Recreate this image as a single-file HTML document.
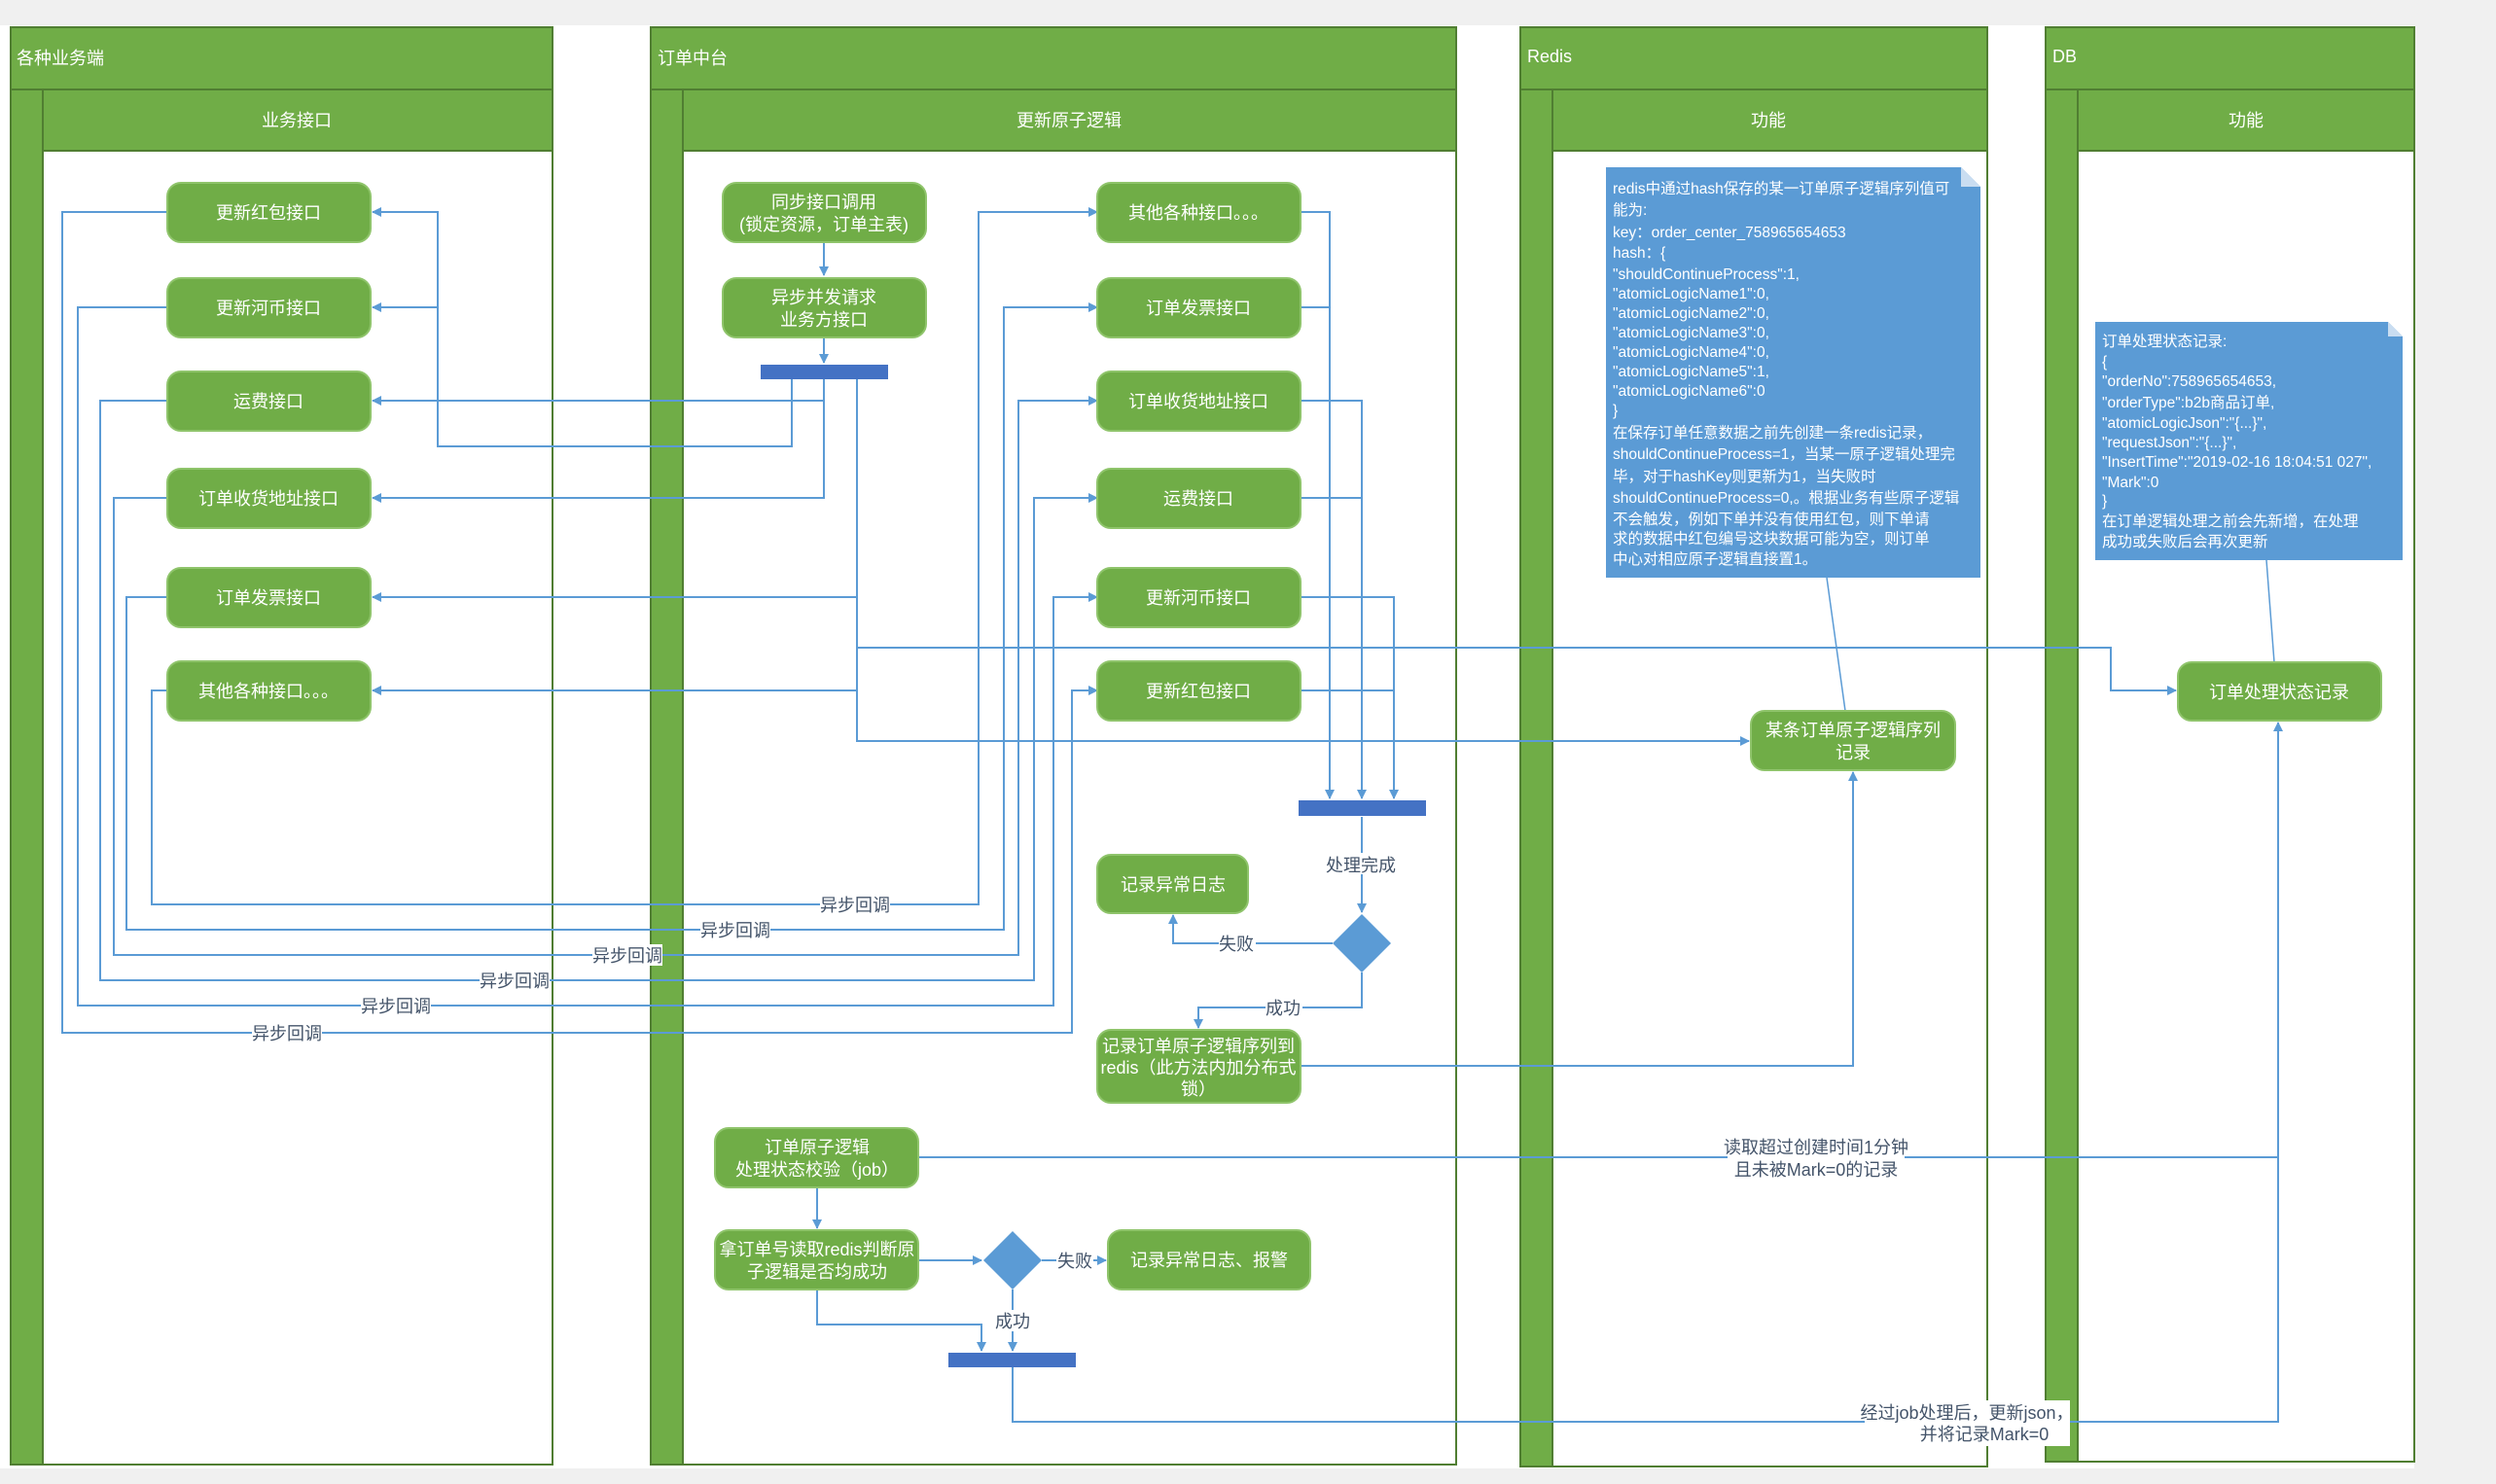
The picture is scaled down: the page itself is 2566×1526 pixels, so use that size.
<!DOCTYPE html>
<html><head><meta charset="utf-8"><style>
html,body{margin:0;padding:0;background:#f0f0f0;}
svg{display:block;font-family:"Liberation Sans","Noto Sans CJK SC",sans-serif;}
.n{fill:#70ad47;stroke:#8fc46b;stroke-width:2}
.nt{fill:#fff;font-size:18px;text-anchor:middle}
.l{fill:none;stroke:#5b9bd5;stroke-width:2}
.lb{fill:#44546a;font-size:18px;text-anchor:middle}
.hd{fill:#70ad47;stroke:#507e32;stroke-width:2}
.ht{fill:#fff;font-size:18px}
.nb{fill:#fff;font-size:15.5px}
</style></head><body>
<svg width="2566" height="1526" viewBox="0 0 2566 1526" xmlns="http://www.w3.org/2000/svg">
<defs><marker id="a" markerWidth="10" markerHeight="10" refX="9" refY="5" orient="auto" markerUnits="userSpaceOnUse"><path d="M0,0 L10,5 L0,10 z" fill="#5b9bd5"/></marker></defs>
<rect x="0" y="26" width="2482" height="1484" fill="#fff"/>
<g>
<rect x="11" y="28" width="557" height="1478" fill="#fff" stroke="#507e32" stroke-width="2"/>
<rect class="hd" x="11" y="28" width="557" height="64"/><text class="ht" x="17" y="66">各种业务端</text>
<rect class="hd" x="44" y="92" width="524" height="63"/><text class="ht" x="305" y="130" text-anchor="middle">业务接口</text>
<rect class="hd" x="11" y="92" width="33" height="1414"/>

<rect x="669" y="28" width="828" height="1478" fill="#fff" stroke="#507e32" stroke-width="2"/>
<rect class="hd" x="669" y="28" width="828" height="64"/><text class="ht" x="676" y="66">订单中台</text>
<rect class="hd" x="702" y="92" width="795" height="63"/><text class="ht" x="1099" y="130" text-anchor="middle">更新原子逻辑</text>
<rect class="hd" x="669" y="92" width="33" height="1414"/>

<rect x="1563" y="28" width="480" height="1480" fill="#fff" stroke="#507e32" stroke-width="2"/>
<rect class="hd" x="1563" y="28" width="480" height="64"/><text class="ht" x="1570" y="64" font-size="16">Redis</text>
<rect class="hd" x="1596" y="92" width="447" height="63"/><text class="ht" x="1818" y="130" text-anchor="middle">功能</text>
<rect class="hd" x="1563" y="92" width="33" height="1416"/>

<rect x="2103" y="28" width="379" height="1475" fill="#fff" stroke="#507e32" stroke-width="2"/>
<rect class="hd" x="2103" y="28" width="379" height="64"/><text class="ht" x="2110" y="64" font-size="16">DB</text>
<rect class="hd" x="2136" y="92" width="346" height="63"/><text class="ht" x="2309" y="130" text-anchor="middle">功能</text>
<rect class="hd" x="2103" y="92" width="33" height="1411"/>
</g>

<g class="l">
<polyline points="172,710 156,710 156,930 1006,930 1006,218 1128,218" marker-end="url(#a)"/>
<polyline points="172,614 130,614 130,956 1032,956 1032,316 1128,316" marker-end="url(#a)"/>
<polyline points="172,512 117,512 117,982 1047,982 1047,412 1128,412" marker-end="url(#a)"/>
<polyline points="172,412 103,412 103,1008 1063,1008 1063,512 1128,512" marker-end="url(#a)"/>
<polyline points="172,316 80,316 80,1034 1083,1034 1083,614 1128,614" marker-end="url(#a)"/>
<polyline points="172,218 64,218 64,1062 1102,1062 1102,710 1128,710" marker-end="url(#a)"/>
<line x1="847" y1="249" x2="847" y2="283" marker-end="url(#a)"/>
<line x1="847" y1="347" x2="847" y2="373" marker-end="url(#a)"/>
<polyline points="814,390 814,459 450,459 450,218 383,218" marker-end="url(#a)"/>
<line x1="450" y1="316" x2="383" y2="316" marker-end="url(#a)"/>
<polyline points="847,390 847,412 383,412" marker-end="url(#a)"/>
<polyline points="847,412 847,512 383,512" marker-end="url(#a)"/>
<polyline points="881,390 881,762 1798,762" marker-end="url(#a)"/>
<line x1="881" y1="614" x2="383" y2="614" marker-end="url(#a)"/>
<line x1="881" y1="710" x2="383" y2="710" marker-end="url(#a)"/>
<polyline points="881,666 2170,666 2170,710 2237,710" marker-end="url(#a)"/>
<polyline points="1337,218 1367,218 1367,821" marker-end="url(#a)"/>
<polyline points="1337,316 1367,316"/>
<polyline points="1337,412 1400,412 1400,821" marker-end="url(#a)"/>
<polyline points="1337,512 1400,512"/>
<polyline points="1337,614 1433,614 1433,821" marker-end="url(#a)"/>
<polyline points="1337,710 1433,710"/>
<line x1="1400" y1="840" x2="1400" y2="938" marker-end="url(#a)"/>
<polyline points="1370,970 1206,970 1206,941" marker-end="url(#a)"/>
<polyline points="1400,1000 1400,1036 1232,1036 1232,1057" marker-end="url(#a)"/>
<polyline points="1337,1096 1905,1096 1905,794" marker-end="url(#a)"/>
<polyline points="944,1190 2342,1190 2342,743" marker-end="url(#a)"/>
<line x1="840" y1="1221" x2="840" y2="1263" marker-end="url(#a)"/>
<line x1="944" y1="1296" x2="1009" y2="1296" marker-end="url(#a)"/>
<line x1="1071" y1="1296" x2="1137" y2="1296" marker-end="url(#a)"/>
<polyline points="840,1326 840,1362 1009,1362 1009,1389" marker-end="url(#a)"/>
<line x1="1041" y1="1326" x2="1041" y2="1389" marker-end="url(#a)"/>
<polyline points="1041,1406 1041,1462 2342,1462 2342,1190"/>
<line x1="1878" y1="594" x2="1897" y2="731" stroke-width="1.5"/>
<line x1="2330" y1="576" x2="2338" y2="681" stroke-width="1.5"/>
</g>

<rect x="782" y="375" width="131" height="15" fill="#4472c4"/>
<rect x="1335" y="823" width="131" height="16" fill="#4472c4"/>
<rect x="975" y="1391" width="131" height="15" fill="#4472c4"/>
<polygon points="1400,940 1430,970 1400,1000 1370,970" fill="#5b9bd5"/>
<polygon points="1041,1266 1071,1296 1041,1326 1011,1296" fill="#5b9bd5"/>

<g>
<rect x="843" y="919" width="72" height="22" fill="#fff"/><text class="lb" x="879" y="937">异步回调</text>
<rect x="720" y="945" width="72" height="22" fill="#fff"/><text class="lb" x="756" y="963">异步回调</text>
<rect x="609" y="971" width="72" height="22" fill="#fff"/><text class="lb" x="645" y="989">异步回调</text>
<rect x="493" y="997" width="72" height="22" fill="#fff"/><text class="lb" x="529" y="1015">异步回调</text>
<rect x="371" y="1023" width="72" height="22" fill="#fff"/><text class="lb" x="407" y="1041">异步回调</text>
<rect x="259" y="1051" width="72" height="22" fill="#fff"/><text class="lb" x="295" y="1069">异步回调</text>
<rect x="1364" y="877" width="72" height="22" fill="#fff"/><text class="lb" x="1399" y="896">处理完成</text>
<rect x="1253" y="959" width="38" height="22" fill="#fff"/><text class="lb" x="1271" y="977">失败</text>
<rect x="1301" y="1025" width="38" height="22" fill="#fff"/><text class="lb" x="1319" y="1043">成功</text>
<rect x="1086" y="1285" width="38" height="22" fill="#fff"/><text class="lb" x="1105" y="1303">失败</text>
<rect x="1022" y="1347" width="38" height="22" fill="#fff"/><text class="lb" x="1041" y="1365">成功</text>
<rect x="1776" y="1166" width="182" height="48" fill="#fff"/><text class="lb" x="1867" y="1186">读取超过创建时间1分钟</text><text class="lb" x="1867" y="1209">且未被Mark=0的记录</text>
<rect x="1917" y="1440" width="211" height="47" fill="#fff"/><text class="lb" x="2022" y="1459">经过job处理后，更新json，</text><text class="lb" x="2040" y="1481">并将记录Mark=0</text>
</g>

<g>
<rect class="n" x="172" y="188" width="209" height="61" rx="14"/><text class="nt" x="276" y="225">更新红包接口</text>
<rect class="n" x="172" y="286" width="209" height="61" rx="14"/><text class="nt" x="276" y="323">更新河币接口</text>
<rect class="n" x="172" y="382" width="209" height="61" rx="14"/><text class="nt" x="276" y="419">运费接口</text>
<rect class="n" x="172" y="482" width="209" height="61" rx="14"/><text class="nt" x="276" y="519">订单收货地址接口</text>
<rect class="n" x="172" y="584" width="209" height="61" rx="14"/><text class="nt" x="276" y="621">订单发票接口</text>
<rect class="n" x="172" y="680" width="209" height="61" rx="14"/><text class="nt" x="276" y="717">其他各种接口。。。</text>

<rect class="n" x="743" y="188" width="209" height="61" rx="14"/><text class="nt" x="847" y="214">同步接口调用</text><text class="nt" x="847" y="237" font-size="17">(锁定资源，订单主表)</text>
<rect class="n" x="743" y="286" width="209" height="61" rx="14"/><text class="nt" x="847" y="312">异步并发请求</text><text class="nt" x="847" y="335">业务方接口</text>

<rect class="n" x="1128" y="188" width="209" height="61" rx="14"/><text class="nt" x="1232" y="225">其他各种接口。。。</text>
<rect class="n" x="1128" y="286" width="209" height="61" rx="14"/><text class="nt" x="1232" y="323">订单发票接口</text>
<rect class="n" x="1128" y="382" width="209" height="61" rx="14"/><text class="nt" x="1232" y="419">订单收货地址接口</text>
<rect class="n" x="1128" y="482" width="209" height="61" rx="14"/><text class="nt" x="1232" y="519">运费接口</text>
<rect class="n" x="1128" y="584" width="209" height="61" rx="14"/><text class="nt" x="1232" y="621">更新河币接口</text>
<rect class="n" x="1128" y="680" width="209" height="61" rx="14"/><text class="nt" x="1232" y="717">更新红包接口</text>

<rect class="n" x="1128" y="879" width="155" height="60" rx="14"/><text class="nt" x="1206" y="916">记录异常日志</text>
<rect class="n" x="1128" y="1059" width="209" height="75" rx="14"/><text class="nt" x="1232" y="1082" font-size="16">记录订单原子逻辑序列到</text><text class="nt" x="1232" y="1104" font-size="15.5">redis（此方法内加分布式</text><text class="nt" x="1232" y="1126" font-size="16">锁）</text>
<rect class="n" x="735" y="1160" width="209" height="61" rx="14"/><text class="nt" x="840" y="1186">订单原子逻辑</text><text class="nt" x="840" y="1209" font-size="17">处理状态校验（job）</text>
<rect class="n" x="735" y="1265" width="209" height="61" rx="14"/><text class="nt" x="840" y="1291" font-size="15.5">拿订单号读取redis判断原</text><text class="nt" x="840" y="1314" font-size="16">子逻辑是否均成功</text>
<rect class="n" x="1139" y="1265" width="208" height="61" rx="14"/><text class="nt" x="1243" y="1302">记录异常日志、报警</text>

<rect class="n" x="1800" y="731" width="210" height="61" rx="14"/><text class="nt" x="1905" y="757">某条订单原子逻辑序列</text><text class="nt" x="1905" y="780">记录</text>
<rect class="n" x="2239" y="681" width="209" height="60" rx="14"/><text class="nt" x="2343" y="718">订单处理状态记录</text>
</g>

<polygon points="1651,172 2016,172 2036,192 2036,594 1651,594" fill="#5b9bd5"/>
<polygon points="2016,172 2036,192 2016,192" fill="#c9ddf1"/>
<g class="nb">
<text x="1658" y="199">redis中通过hash保存的某一订单原子逻辑序列值可</text>
<text x="1658" y="221">能为:</text>
<text x="1658" y="244">key：order_center_758965654653</text>
<text x="1658" y="265">hash：{</text>
<text x="1658" y="287">"shouldContinueProcess":1,</text>
<text x="1658" y="307">"atomicLogicName1":0,</text>
<text x="1658" y="327">"atomicLogicName2":0,</text>
<text x="1658" y="347">"atomicLogicName3":0,</text>
<text x="1658" y="367">"atomicLogicName4":0,</text>
<text x="1658" y="387">"atomicLogicName5":1,</text>
<text x="1658" y="407">"atomicLogicName6":0</text>
<text x="1658" y="427">}</text>
<text x="1658" y="450">在保存订单任意数据之前先创建一条redis记录，</text>
<text x="1658" y="472">shouldContinueProcess=1，当某一原子逻辑处理完</text>
<text x="1658" y="495">毕，对于hashKey则更新为1，当失败时</text>
<text x="1658" y="517">shouldContinueProcess=0,。根据业务有些原子逻辑</text>
<text x="1658" y="539">不会触发，例如下单并没有使用红包，则下单请</text>
<text x="1658" y="559">求的数据中红包编号这块数据可能为空，则订单</text>
<text x="1658" y="580">中心对相应原子逻辑直接置1。</text>
</g>
<polygon points="2154,331 2455,331 2470,346 2470,576 2154,576" fill="#5b9bd5"/>
<polygon points="2455,331 2470,346 2455,346" fill="#c9ddf1"/>
<g class="nb">
<text x="2161" y="356">订单处理状态记录:</text>
<text x="2161" y="377">{</text>
<text x="2161" y="397">"orderNo":758965654653,</text>
<text x="2161" y="419">"orderType":b2b商品订单,</text>
<text x="2161" y="440">"atomicLogicJson":"{...}",</text>
<text x="2161" y="460">"requestJson":"{...}",</text>
<text x="2161" y="480">"InsertTime":"2019-02-16 18:04:51 027",</text>
<text x="2161" y="501">"Mark":0</text>
<text x="2161" y="520">}</text>
<text x="2161" y="541">在订单逻辑处理之前会先新增，在处理</text>
<text x="2161" y="562">成功或失败后会再次更新</text>
</g>
</svg>
</body></html>
